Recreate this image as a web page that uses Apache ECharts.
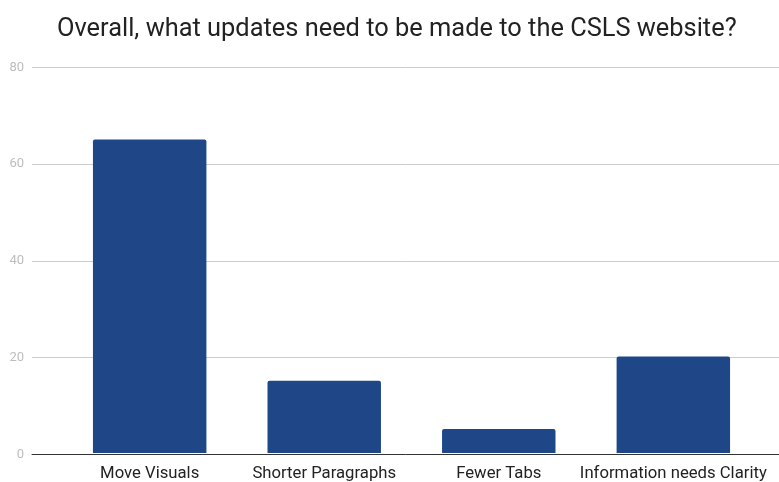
<!DOCTYPE html>
<html><head><meta charset="utf-8">
<script src="https://cdn.jsdelivr.net/npm/echarts@6/dist/echarts.min.js"></script>
<style>html,body{margin:0;padding:0;background:#fff}#c{width:779px;height:482px}</style>
</head><body><div id="c"></div>
<script>
const titleText = 'Overall, what updates need to be made to the CSLS website?';
const categories = ['Move Visuals', 'Shorter Paragraphs', 'Fewer Tabs', 'Information needs Clarity'];
const values = [65, 15, 5, 20];
const yTicks = [0, 20, 40, 60, 80];

const chart = echarts.init(document.getElementById('c'), null, {renderer: 'canvas'});
chart.setOption({
  animation: false,
  backgroundColor: '#fff',
  title: {
    text: titleText, left: 57, top: 17, padding: 0,
    textStyle: {fontFamily: 'Roboto', fontSize: 25.4, fontWeight: 'normal', color: '#222'}
  },
  grid: [
    {left: 32, right: 0, top: 67.3, bottom: 27.7},
    {left: 62.4, right: 18.4, top: 67.3, bottom: 27.7}
  ],
  xAxis: [
    {type: 'category', gridIndex: 0, data: categories, axisLabel: {show: false}, axisTick: {show: false},
     axisLine: {show: true, lineStyle: {color: '#333', width: 1}}},
    {type: 'category', gridIndex: 1, data: categories, axisTick: {show: false}, axisLine: {show: false},
     axisLabel: {fontFamily: 'Roboto', fontSize: 16.7, color: '#222', margin: 12, interval: 0}}
  ],
  yAxis: [
    {type: 'value', gridIndex: 0, min: yTicks[0], max: yTicks[yTicks.length - 1], interval: 20,
     axisLine: {show: false}, axisTick: {show: false},
     axisLabel: {fontFamily: 'Roboto', fontSize: 13, color: '#bdbdbd', margin: 8},
     splitLine: {lineStyle: {color: '#ccc', width: 1}}},
    {type: 'value', gridIndex: 1, min: yTicks[0], max: yTicks[yTicks.length - 1], interval: 20, show: false,
     splitLine: {show: false}}
  ],
  series: [{
    type: 'bar', xAxisIndex: 1, yAxisIndex: 1, data: values, barWidth: '65%',
    itemStyle: {color: '#1f4788', borderRadius: [2, 2, 0, 0]}
  }]
});
</script></body></html>
